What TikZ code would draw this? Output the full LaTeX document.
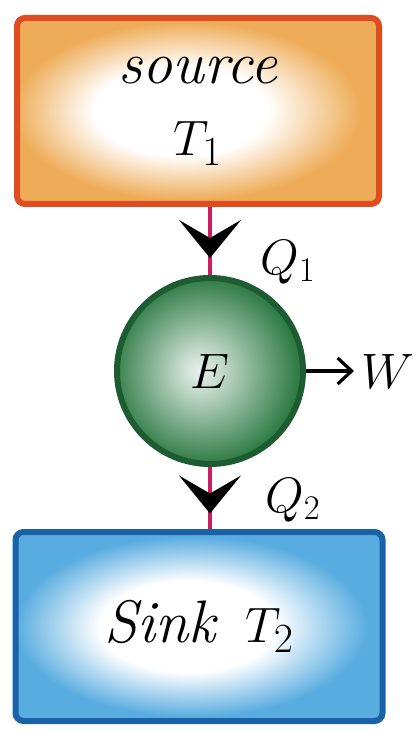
\documentclass[tikz,border=0pt]{standalone}
\usepackage{tikz}
\usetikzlibrary{arrows.meta,positioning,decorations.markings}
\definecolor{srcfill}{RGB}{238,172,88}
\definecolor{srcdraw}{RGB}{222,76,32}
\definecolor{engfill}{RGB}{48,124,70}
\definecolor{engdraw}{RGB}{28,92,48}
\definecolor{snkfill}{RGB}{88,172,224}
\definecolor{snkdraw}{RGB}{26,98,166}
\definecolor{heat}{RGB}{204,30,100}
\pgfdeclareradialshading{srcshade}{\pgfpoint{-3bp}{0bp}}{color(0bp)=(white); color(12bp)=(white); color(24bp)=(srcfill); color(50bp)=(srcfill)}
\pgfdeclareradialshading{snkshade}{\pgfpoint{-2bp}{0bp}}{color(0bp)=(white); color(12bp)=(white); color(24bp)=(snkfill); color(50bp)=(snkfill)}
\pgfdeclareradialshading{engshade}{\pgfpoint{-3bp}{0bp}}{color(0bp)=(white!90!engfill); color(6bp)=(white!70!engfill); color(25bp)=(engfill); color(50bp)=(engfill)}

\begin{document}
\begin{tikzpicture}[x=0.5pt,y=-0.5pt,
 node distance=36pt,
 res/.style={draw,line width=3pt,rounded corners=4pt,align=center,font=\fontsize{30}{34}\selectfont\itshape},
 engine/.style={circle,draw=engdraw,line width=3pt,minimum size=93pt,shading=engshade,font=\fontsize{26}{28}\selectfont},
 flow/.style={heat,line width=1.8pt,postaction={decorate},
  decoration={markings,mark=at position 0.75 with {\arrow[black]{Stealth[length=19pt,width=31pt,inset=9pt]}}}},
 work/.style={-{Straight Barb[length=7pt,width=13pt]},line width=1.6pt},
 lbl/.style={font=\fontsize{24}{26}\selectfont}]
\useasboundingbox (0,0) rectangle (414,731);
\node[res,draw=srcdraw,shading=srcshade,minimum width=181pt,minimum height=93pt] (source) at (198,111) {source\\[2pt]$T_1$};
\node[engine,below=34pt of source,xshift=6pt] (eng) {$E$};
\node[res,draw=snkdraw,shading=snkshade,minimum width=183.5pt,minimum height=94.5pt,below=31pt of eng,xshift=-5.5pt] (sink) {Sink\enspace$T_2$};
\node[lbl,right=24pt of eng] (work) {$W$};
\node[lbl] (q1) at (288,262) {$Q_1$};
\node[lbl] (q2) at (293,500) {$Q_2$};
\draw[flow] (eng.north |- source.south) -- (eng.north);
\draw[flow] (eng.south) -- (eng.south |- sink.north);
\draw[work] (eng.east) -- (work);
\end{tikzpicture}
\end{document}
